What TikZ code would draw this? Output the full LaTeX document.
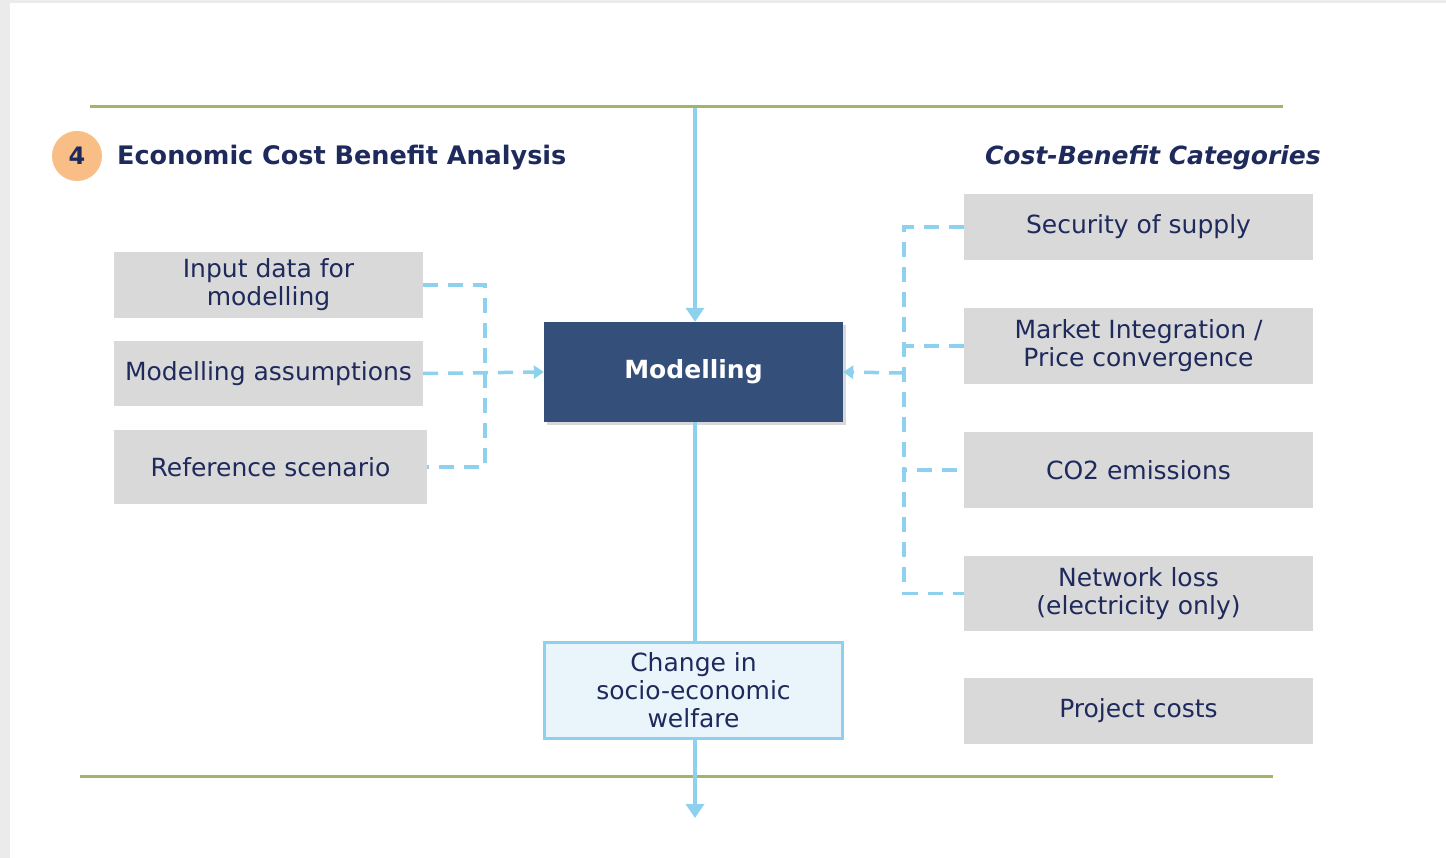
\documentclass[tikz,border=0pt]{standalone}
\usepackage{fontspec}
\setmainfont{DejaVu Sans}
\usetikzlibrary{arrows.meta,shadows}
\definecolor{navy}{HTML}{1F2A5C}
\definecolor{boxgrey}{HTML}{D9D9D9}
\definecolor{sky}{HTML}{8DD1EE}
\definecolor{modblue}{HTML}{34507A}
\definecolor{paleblue}{HTML}{EAF4FB}
\definecolor{olive}{HTML}{A0B565}
\definecolor{badge}{HTML}{F8BE86}
\definecolor{frame}{HTML}{EBEBEB}
\tikzset{
 catbox/.style={fill=boxgrey,text=navy,align=center,inner sep=0pt,font=\fontsize{25}{28}\selectfont},
 flow/.style={draw=sky,line width=4pt},
 feed/.style={draw=sky,line width=3.5pt,dash pattern=on 15pt off 10pt},
 tip/.style={-{Triangle[length=14pt,width=18pt]}},
 ftip/.style={-{Triangle[length=10pt,width=13pt]}},
 rule/.style={draw=olive,line width=3pt}
}
\begin{document}
\begin{tikzpicture}[x=1pt,y=-1pt]
\useasboundingbox (0,0) rectangle (1446,858);
\fill[frame] (0,0) rectangle (1446,858);
\fill[white] (10,3) rectangle (1446,858);
\draw[rule] (90,107) -- (1283,107);
\draw[rule] (80,776) -- (1273,776);
\node[circle,fill=badge,minimum size=50pt,inner sep=0pt,text=navy,font=\fontsize{24}{24}\selectfont\bfseries](num) at (77,156){4};
\node[anchor=west,text=navy,font=\fontsize{25.5}{28}\selectfont\bfseries,inner sep=0pt](ttl) at (117,158){Economic Cost Benefit Analysis};
\node[anchor=east,text=navy,font=\fontsize{25}{28}\selectfont\bfseries\itshape,inner sep=0pt](cat) at (1321,158){Cost-Benefit Categories};
% inputs
\foreach \t/\x/\y/\w/\h[count=\i] in {
 {Input data for\\modelling}/268.5/285/309/66,
 Modelling assumptions/268.5/373.5/309/65,
 Reference scenario/270.5/467/313/74
}
\node[catbox,minimum width=\w pt,minimum height=\h pt](in\i) at (\x,\y){\t};
% categories
\foreach \t/\y/\h[count=\i] in {
 Security of supply/227/66,
 {Market Integration /\\Price convergence}/346/76,
 CO2 emissions/470/76,
 {Network loss\\(electricity only)}/593.5/75,
 Project costs/711/66
}
\node[catbox,minimum width=349pt,minimum height=\h pt](c\i) at (1138.5,\y){\t};
\node[fill=modblue,text=white,minimum width=299pt,minimum height=100pt,inner sep=0pt,
 font=\fontsize{25}{28}\selectfont\bfseries,
 drop shadow={shadow xshift=3pt,shadow yshift=-3pt,opacity=.3}](mod) at (693.5,372){Modelling};
\node[fill=paleblue,draw=sky,line width=3pt,text=navy,align=center,minimum width=298pt,minimum height=96pt,inner sep=0pt,
 font=\fontsize{25}{28}\selectfont](chg) at (693.5,690.5){Change in\\socio-economic\\welfare};
\coordinate (top) at (695,108);
\coordinate (out) at (695,818);
\coordinate (lbus) at (485,373);
\coordinate (rbus) at (904,373);
\draw[flow,tip] (top) -- (top |- mod.north);
\draw[flow] (top |- mod.south) -- (top |- chg.north);
\draw[flow,tip] (out |- chg.south) -- (out);
\draw[feed] (in1.east) -| (lbus) |- (in3.east);
\draw[feed,ftip] (in2.east) -- (mod.west);
\draw[feed] (c1.west) -| (rbus) |- (c4.west);
\draw[feed] (c2.west) -- (c2.west -| rbus);
\draw[feed] ([xshift=-7pt]c3.west) -- (c3.west -| rbus);
\draw[feed,ftip] (rbus) -- (mod.east);
\end{tikzpicture}
\end{document}
